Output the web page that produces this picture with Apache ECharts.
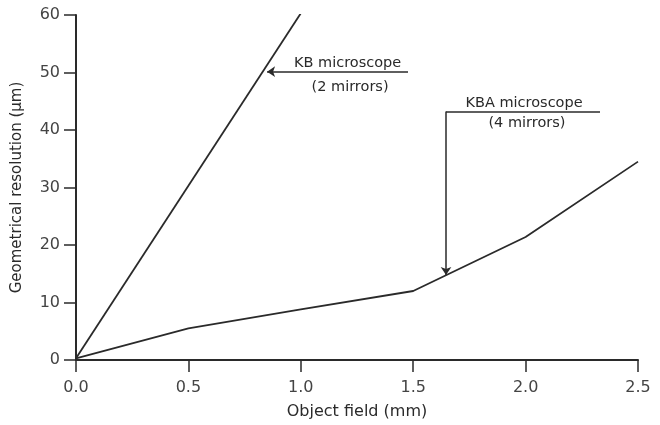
<!DOCTYPE html>
<html><head><meta charset="utf-8">
<script src="https://cdn.jsdelivr.net/npm/echarts@6/dist/echarts.min.js"></script>
<style>html,body{margin:0;padding:0;background:#fff}#c{width:660px;height:425px}</style>
</head><body><div id="c"></div>
<script>
const xTicks = [0.0, 0.5, 1.0, 1.5, 2.0, 2.5];
const yTicks = [0, 10, 20, 30, 40, 50, 60];
const kbX = [0.0, 1.0];
const kbY = [0.3, 60.3];
const kbaX = [0.0, 0.5, 1.0, 1.5, 2.0, 2.5];
const kbaY = [0.3, 5.5, 8.8, 12.0, 21.4, 34.5];
const kbLabel = ['KB microscope', '(2 mirrors)'];
const kbaLabel = ['KBA microscope', '(4 mirrors)'];

const ink = '#2a2a2a';
const font = 'DejaVu Sans';
const chart = echarts.init(document.getElementById('c'));
const labelPt = (coord, text) => ({coord, value: text, symbolSize: 0,
  label: {show: true, formatter: text, color: ink, fontFamily: font, fontSize: 14.5, position: 'inside'}});
chart.setOption({
  animation: false,
  grid: {left: 76, right: 22, top: 15, bottom: 61},
  xAxis: {
    type: 'value', min: 0, max: 2.5, interval: 0.5,
    name: 'Object field (mm)', nameLocation: 'middle', nameGap: 44,
    nameTextStyle: {color: ink, fontFamily: font, fontSize: 16},
    axisLine: {lineStyle: {color: ink, width: 2}},
    axisTick: {show: true, length: 12, lineStyle: {color: ink, width: 1.5}},
    axisLabel: {color: '#444', fontFamily: font, fontSize: 16, margin: 20, formatter: v => v.toFixed(1)},
    splitLine: {show: false}
  },
  yAxis: {
    type: 'value', min: 0, max: 60, interval: 10,
    name: 'Geometrical resolution (\u00b5m)', nameLocation: 'middle', nameGap: 51,
    nameTextStyle: {color: ink, fontFamily: font, fontSize: 15},
    axisLine: {show: true, lineStyle: {color: ink, width: 2}},
    axisTick: {show: true, length: 12, lineStyle: {color: ink, width: 1.5}},
    axisLabel: {color: '#444', fontFamily: font, fontSize: 16, margin: 16},
    splitLine: {show: false}
  },
  series: [
    {
      type: 'line', data: kbX.map((x, i) => [x, kbY[i]]), showSymbol: false,
      lineStyle: {color: ink, width: 1.8},
      markLine: {
        silent: true, symbolSize: 8,
        lineStyle: {color: ink, width: 1.5, type: 'solid'},
        label: {show: false},
        data: [[{coord: [1.477, 50.15], symbol: 'none'}, {coord: [0.85, 50.15], symbol: 'arrow'}]]
      },
      markPoint: {
        silent: true, symbol: 'circle',
        data: [labelPt([1.208, 51.6], kbLabel[0]), labelPt([1.219, 47.4], kbLabel[1])]
      }
    },
    {
      type: 'line', data: kbaX.map((x, i) => [x, kbaY[i]]), showSymbol: false,
      lineStyle: {color: ink, width: 1.8},
      markLine: {
        silent: true, symbolSize: 8,
        lineStyle: {color: ink, width: 1.5, type: 'solid'},
        label: {show: false},
        data: [
          [{coord: [2.331, 43.2], symbol: 'none'}, {coord: [1.646, 43.2], symbol: 'none'}],
          [{coord: [1.646, 43.2], symbol: 'none'}, {coord: [1.646, 14.8], symbol: 'arrow'}]
        ]
      },
      markPoint: {
        silent: true, symbol: 'circle',
        data: [labelPt([1.993, 44.6], kbaLabel[0]), labelPt([2.006, 41.1], kbaLabel[1])]
      }
    }
  ]
});
</script></body></html>
